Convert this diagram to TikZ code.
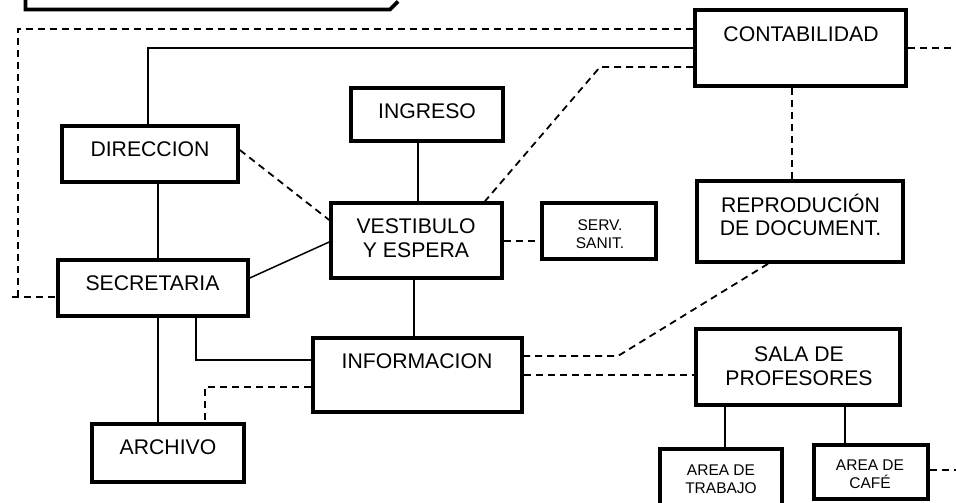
\documentclass[tikz,border=0pt]{standalone}
\usepackage{fontspec}
\setmainfont{Liberation Sans}
\usetikzlibrary{fit}
\begin{document}
\begin{tikzpicture}[x=1pt,y=-1pt,
  box/.style={draw, line width=3.6pt, inner sep=0pt, fit={#1}},
  big/.style={font=\fontsize{21.2}{23.5}\selectfont, align=center, inner sep=0pt},
  small/.style={font=\fontsize{15.5}{18.5}\selectfont, align=center, inner sep=0pt},
  con/.style={line width=1.5pt},
  dsh/.style={line width=1.8pt, dash pattern=on 7pt off 5pt}]
\useasboundingbox (0,0) rectangle (956,503);
\clip (0,0) rectangle (956,503);
% partial top box
\draw[line width=3.8pt] (25.5,-10) -- (25.5,9.5) -- (390,9.5) -- (398,1.5);
% boxes
\node[box={(62,126)(238,182)}] (dir) {};
\node[box={(58,260)(248,316)}] (sec) {};
\node[box={(92,424)(244,482)}] (arc) {};
\node[box={(351,88)(503,141)}] (ing) {};
\node[box={(331,203)(502,278)}] (ves) {};
\node[box={(542,203)(656,259)}] (serv) {};
\node[box={(313,338)(522,412)}] (inf) {};
\node[box={(695,10)(906,86)}] (con) {};
\node[box={(697,181)(903,262)}] (rep) {};
\node[box={(696,329)(900,405)}] (sala) {};
\node[box={(660,449)(782,515)}] (trab) {};
\node[box={(814,445)(928,499)}] (cafe) {};
% texts
\node[big] (tdir) at (150,149) {DIRECCION};
\node[big] (tsec) at (152.5,283) {SECRETARIA};
\node[big] (tarc) at (168,447) {ARCHIVO};
\node[big] (ting) at (427,111) {INGRESO};
\node[big] (tves) at (416,238) {VESTIBULO\\Y ESPERA};
\node[small] (tserv) at (600,234) {SERV.\\SANIT.};
\node[big] (tinf) at (417,361) {INFORMACION};
\node[big] (tcon) at (801,34) {CONTABILIDAD};
\node[big] (trep) at (800.5,215) {REPRODUCIÓN\\DE DOCUMENT.};
\node[big] (tsala) at (799,366) {SALA DE\\PROFESORES};
\node[small] (ttrab) at (721,479) {AREA DE\\TRABAJO};
\node[small] (tcafe) at (870,474) {AREA DE\\CAFÉ};
% helper coordinates
\coordinate (k1) at (18,29);
\coordinate (k2) at (18,297);
\coordinate (k2b) at (12,297);
\coordinate (k3) at (148,48);
\coordinate (k4) at (600,67);
\coordinate (k5) at (485,0);
\coordinate (k6) at (960,48);
\coordinate (k7) at (792,0);
\coordinate (k8) at (768,0);
\coordinate (k9) at (618,356);
\coordinate (k10) at (158,0);
\coordinate (k11) at (196,360);
\coordinate (k12) at (205,387);
\coordinate (k14) at (960,470);
\coordinate (y150) at (0,150);
\coordinate (y220) at (0,220);
\coordinate (y278) at (0,278);
\coordinate (y242) at (0,242);
\coordinate (y241) at (0,241);
\coordinate (y375) at (0,375);
\coordinate (x418) at (418,0);
\coordinate (x414) at (414,0);
\coordinate (x725) at (725,0);
\coordinate (x845) at (845,0);
% connectors
\draw[dsh] (con.west |- k1) -- (k1) -- (k2);
\draw[dsh] (k2b) -- (sec.west |- k2b);
\draw[con] (con.west |- k3) -- (k3) -- (dir.north -| k3);
\draw[dsh] (con.west |- k4) -- (k4) -- (ves.north -| k5);
\draw[dsh] (con.east |- k6) -- (k6);
\draw[dsh] (con.south -| k7) -- (rep.north -| k7);
\draw[dsh] (rep.south -| k8) -- (k9) -- (inf.east |- k9);
\draw[dsh] (inf.east |- y375) -- (sala.west |- y375);
\draw[con] (dir.south -| k10) -- (sec.north -| k10);
\draw[dsh] (dir.east |- y150) -- (ves.west |- y220);
\draw[con] (sec.east |- y278) -- (ves.west |- y242);
\draw[con] (ing.south -| x418) -- (ves.north -| x418);
\draw[dsh] (ves.east |- y241) -- (serv.west |- y241);
\draw[con] (ves.south -| x414) -- (inf.north -| x414);
\draw[con] (sec.south -| k10) -- (arc.north -| k10);
\draw[con] (sec.south -| k11) -- (k11) -- (inf.west |- k11);
\draw[dsh] (inf.west |- k12) -- (k12) -- (arc.north -| k12);
\draw[con] (sala.south -| x725) -- (trab.north -| x725);
\draw[con] (sala.south -| x845) -- (cafe.north -| x845);
\draw[dsh] (cafe.east |- k14) -- (k14);
\end{tikzpicture}
\end{document}
